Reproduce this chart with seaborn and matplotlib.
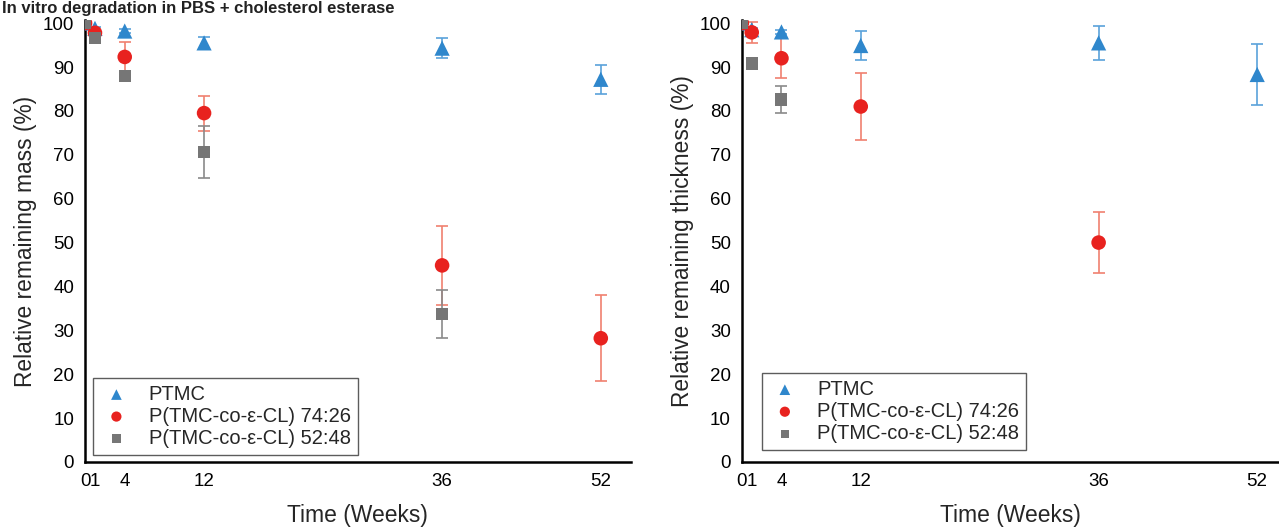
import numpy as np
import pandas as pd
import seaborn as sns
import matplotlib.pyplot as plt

# time points (weeks)
weeks = [0, 1, 4, 12, 36, 52]
tick_weeks = [0, 1, 4, 12, 36, 52]
tick_labels = ['0', '1', '4', '12', '36', '52']

series_names = ['PTMC', 'P(TMC-co-\u03b5-CL) 74:26', 'P(TMC-co-\u03b5-CL) 52:48']

# relative remaining mass (%)
mass_ptmc = [100, 98.8, 98.2, 95.5, 94.3, 87.2]
mass_ptmc_err = [0, 0.4, 0.4, 1.3, 2.2, 3.3]
mass_7426 = [100, 97.8, 92.3, 79.5, 44.8, 28.2]
mass_7426_err = [0, 0.6, 3.4, 4.0, 9.0, 9.8]
mass_5248_weeks = [0, 1, 4, 12, 36]
mass_5248 = [100, 96.6, 88.0, 70.6, 33.7]
mass_5248_err = [0, 0.5, 0.5, 6.0, 5.4]

# relative remaining thickness (%)
thick_ptmc = [100, 98.5, 98.0, 94.9, 95.5, 88.3]
thick_ptmc_err = [0, 0.5, 0.5, 3.3, 3.9, 6.9]
thick_7426_weeks = [0, 1, 4, 12, 36]
thick_7426 = [100, 97.9, 92.0, 81.0, 50.0]
thick_7426_err = [0, 2.4, 4.5, 7.6, 7.0]
thick_5248_weeks = [0, 1, 4]
thick_5248 = [100, 90.8, 82.6]
thick_5248_err = [0, 0.5, 3.0]

colors = {series_names[0]: '#2f87cc', series_names[1]: '#e8221f', series_names[2]: '#767676'}
err_colors = {series_names[0]: '#5aa2da', series_names[1]: '#f0806f', series_names[2]: '#8a8a8a'}
markers = {series_names[0]: '^', series_names[1]: 'o', series_names[2]: 's'}
sizes = {series_names[0]: 120, series_names[1]: 110, series_names[2]: 75}


def make_df(parts):
    rows = []
    for name, wk, val, err in parts:
        for w, v, e in zip(wk, val, err):
            rows.append({'Week': w, 'Value': v, 'Err': e, 'Material': name})
    return pd.DataFrame(rows)


df_mass = make_df([
    (series_names[0], weeks, mass_ptmc, mass_ptmc_err),
    (series_names[1], weeks, mass_7426, mass_7426_err),
    (series_names[2], mass_5248_weeks, mass_5248, mass_5248_err),
])
df_thick = make_df([
    (series_names[0], weeks, thick_ptmc, thick_ptmc_err),
    (series_names[1], thick_7426_weeks, thick_7426, thick_7426_err),
    (series_names[2], thick_5248_weeks, thick_5248, thick_5248_err),
])

sns.set_style('white')
plt.rcParams['font.family'] = ['Liberation Sans', 'DejaVu Sans']

fig = plt.figure(figsize=(12.79, 5.28), dpi=100)
ax1 = fig.add_axes([0.0665, 0.125, 0.4265, 0.837])
ax2 = fig.add_axes([0.580, 0.125, 0.420, 0.837])


def draw_panel(ax, df, ylabel, xmax, leg_anchor):
    for name in series_names:
        sub = df[df['Material'] == name]
        ax.errorbar(sub['Week'], sub['Value'], yerr=sub['Err'], fmt='none',
                    ecolor=err_colors[name], elinewidth=1.2, capsize=4,
                    capthick=1.2, zorder=2)
    for name in series_names:
        sub = df[df['Material'] == name]
        sns.scatterplot(data=sub, x='Week', y='Value', ax=ax,
                        color=colors[name], marker=markers[name],
                        s=sizes[name], edgecolor='none', linewidth=0,
                        zorder=3, label=name)
    ax.set_xlim(0, xmax)
    ax.set_ylim(0, 100.7)
    ax.set_xticks(tick_weeks)
    ax.set_xticklabels(tick_labels)
    ax.set_yticks(range(0, 101, 10))
    ax.tick_params(axis='both', labelsize=13.5, direction='out', length=5.8,
                   width=1.5, colors='black', pad=2)
    for side in ['top', 'right']:
        ax.spines[side].set_visible(False)
    for side in ['left', 'bottom']:
        ax.spines[side].set_linewidth(1.8)
        ax.spines[side].set_color('black')
    ax.set_xlabel('Time (Weeks)', fontsize=16.5)
    ax.xaxis.set_label_coords(0.5, -0.094)
    ax.set_ylabel(ylabel, fontsize=16.4, labelpad=4)

    handles, labels = ax.get_legend_handles_labels()
    leg = ax.legend(handles, labels,
                    loc='lower left', bbox_to_anchor=leg_anchor,
                    borderaxespad=0, fontsize=14.5, frameon=True,
                    fancybox=False, edgecolor='#333333', markerscale=0.7,
                    handlelength=1.6, handletextpad=0.8,
                    labelspacing=0.15, borderpad=0.35)
    leg.get_frame().set_linewidth(1.0)


draw_panel(ax1, df_mass, 'Relative remaining mass (%)', 55, (0.015, 0.016))
draw_panel(ax2, df_thick, 'Relative remaining thickness (%)', 54.2, (0.037, 0.027))

fig.text(2 / 1279, 1 - 1 / 528, 'In vitro degradation in PBS + cholesterol esterase',
         ha='left', va='top', fontsize=12, fontweight='bold', color='#222222')

fig.savefig('out.png', dpi=100)
